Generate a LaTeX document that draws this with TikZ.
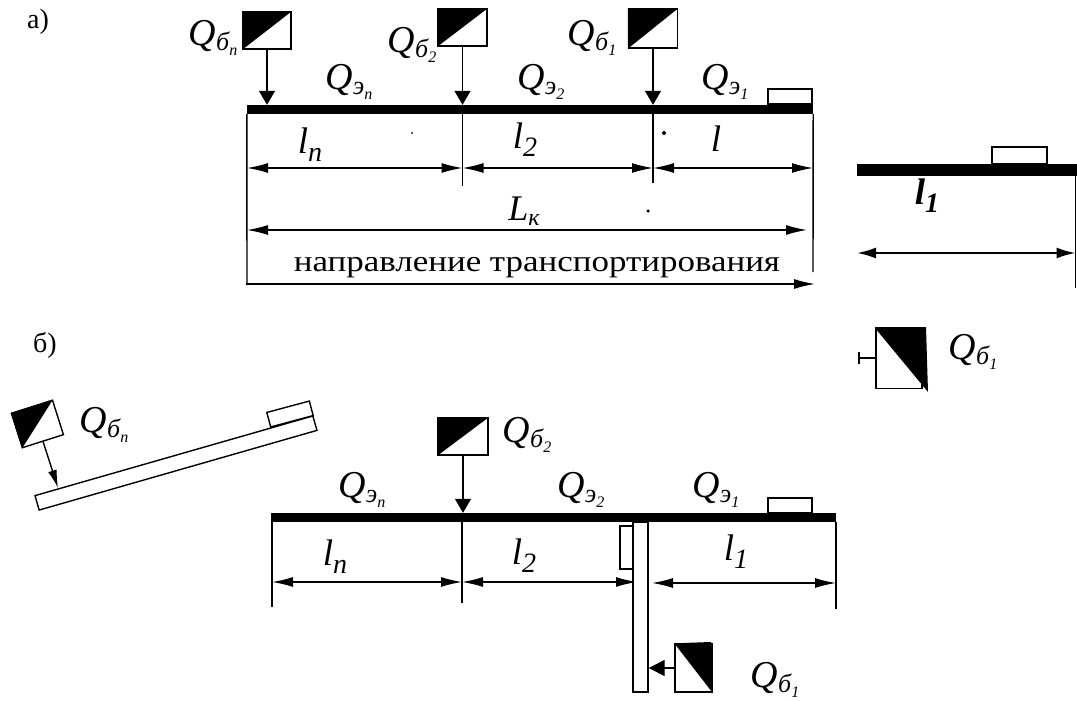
\documentclass[tikz,border=0pt]{standalone}
\usepackage{fontspec}
\setmainfont{Liberation Serif}
\usetikzlibrary{positioning}
\usetikzlibrary{arrows.meta}

\newcommand{\qLab}[2]{{\fontsize{38}{38}\selectfont\itshape Q}\raisebox{-5pt}{\fontsize{26}{26}\selectfont\itshape #1}\raisebox{-10pt}{\fontsize{16}{16}\selectfont\itshape #2}}
\newcommand{\lLab}[1]{{\fontsize{37}{37}\selectfont\itshape l}\raisebox{-8pt}{\fontsize{28}{28}\selectfont\itshape #1}}

\tikzset{
	thinLine/.style={line width=1.4pt},
	beamBar/.style={rectangle, fill=black, inner sep=0pt},
	plainBox/.style={rectangle, draw, line width=1.4pt, fill=white, inner sep=0pt},
	dotMark/.style={circle, fill=black, inner sep=0pt},
	dimLine/.style={line width=1.4pt, {Latex[length=21pt,width=10pt]}-{Latex[length=21pt,width=10pt]}},
	loadLine/.style={line width=1.4pt, -{Triangle[length=14pt,width=16pt]}},
	capLabel/.style={inner sep=0pt, font=\fontsize{28}{28}\selectfont}
}

\begin{document}
\begin{tikzpicture}[x=1pt, y=-1pt]
	\useasboundingbox (0,0) rectangle (1077,701);

	% part a
	\node[capLabel](capA) at (38,22){a)};
	\node[beamBar, minimum width=566pt, minimum height=9pt](beamTop) at (530,109.5){};
	\node[plainBox, minimum width=44pt, minimum height=15pt](loadTop) at (790,96.5){};

	\node[plainBox, minimum width=48pt, minimum height=37pt](boxTopN) at (267,30.5){};
	\fill (boxTopN.north west) -- (boxTopN.north east) -- (boxTopN.south west) -- cycle;
	\node[plainBox, minimum width=49pt, minimum height=37pt](boxTopB) at (462.5,27.5){};
	\fill (boxTopB.north west) -- (boxTopB.north east) -- (boxTopB.south west) -- cycle;
	\node[plainBox, minimum width=49pt, minimum height=39pt](boxTopA) at (653,28.5){};
	\fill (boxTopA.north west) -- (boxTopA.north east) -- (boxTopA.south west) -- cycle;
	\draw[loadLine] (boxTopN.south) -- (boxTopN.south |- beamTop.north);
	\draw[loadLine] (boxTopB.south) -- (boxTopB.south |- beamTop.north);
	\draw[loadLine] (boxTopA.south) -- (boxTopA.south |- beamTop.north);

	\node(lblTopBn) at (213,38){\qLab{б}{n}};
	\node(lblTopB2) at (412,45){\qLab{б}{2}};
	\node(lblTopB1) at (592,38){\qLab{б}{1}};
	\node(lblTopEn) at (349,82){\qLab{э}{n}};
	\node(lblTopE2) at (541,82){\qLab{э}{2}};
	\node(lblTopE1) at (725,82){\qLab{э}{1}};
	\node(lblTopLn) at (310,145){\lLab{n}};
	\node(lblTopL2) at (525,140){\lLab{2}};
	\node(lblTopL) at (716,143){\lLab{}};
	\node(lblTopLk) at (524,211){{\fontsize{36}{36}\selectfont\itshape L}\raisebox{-5pt}{\fontsize{24}{24}\selectfont\itshape к}};

	\coordinate(extTopL) at (247,285);
	\coordinate(extTopA) at (462.5,186);
	\coordinate(extTopB) at (653,183);
	\coordinate(extTopR) at (813,272);
	\draw[thinLine] (beamTop.south west) -- (extTopL);
	\draw[thinLine] (extTopA |- beamTop.south) -- (extTopA);
	\draw[thinLine] (extTopB |- beamTop.south) -- (extTopB);
	\draw[thinLine] (beamTop.south east) -- (extTopR);

	\coordinate(dimTopL) at (247,168);
	\coordinate(dimTopA) at (462.5,168);
	\coordinate(dimTopB) at (653,168);
	\coordinate(dimTopR) at (813,168);
	\draw[dimLine] (dimTopL) -- (dimTopA);
	\draw[dimLine] (dimTopA) -- (dimTopB);
	\draw[dimLine] (dimTopB) -- (dimTopR);
	\coordinate(totalL) at (247,230);
	\coordinate(totalR) at (807,230);
	\draw[dimLine] (totalL) -- (totalR);

	\node(lblDirection) at (537,268){\scalebox{1.165}[1]{\fontsize{30}{30}\selectfont направление транспортирования}};
	\coordinate(dirL) at (246,284);
	\coordinate(dirR) at (815,284);
	\draw[thinLine, -{Latex[length=21pt,width=10pt]}] (dirL) -- (dirR);

	\node[dotMark, minimum size=2pt](dotA) at (412,133){};
	\node[dotMark, minimum size=4pt](dotB) at (664,133){};
	\node[dotMark, minimum size=3.5pt](dotC) at (648,211){};

	% detail on the right
	\node[beamBar, minimum width=220pt, minimum height=12pt](beamSide) at (967,170){};
	\node[plainBox, minimum width=55pt, minimum height=17pt](loadSide) at (1019.5,155.5){};
	\coordinate(extSide) at (1075.5,288);
	\draw[thinLine] (extSide |- beamSide.south) -- (extSide);
	\coordinate(dimSideL) at (857,253);
	\coordinate(dimSideR) at (1075.5,253);
	\draw[line width=2pt, {Latex[length=19pt,width=11pt]}-{Latex[length=19pt,width=11pt]}] (dimSideL) -- (dimSideR);
	\node(lblSideL) at (927,196){\bfseries\lLab{1}};

	\node[plainBox, minimum width=46pt, minimum height=61pt](boxSide) at (899,358){};
	\fill (875,328) -- (926,327) -- (928,392) -- cycle;
	\coordinate(stubEnd) at (858,358);
	\draw[line width=2pt, -{Bar[width=12pt]}] (boxSide.west) -- (stubEnd);
	\node(lblSideQ) at (973,352){\qLab{б}{1}};

	% part b
	\node[capLabel](capB) at (45,345){б)};
	\node[beamBar, minimum width=565pt, minimum height=9pt](beamLow) at (553.5,517.5){};
	\node[plainBox, minimum width=44pt, minimum height=15pt](loadLow) at (790,505.5){};

	\node[plainBox, minimum width=50pt, minimum height=37pt](boxLowB) at (463,436.5){};
	\fill (boxLowB.north west) -- (boxLowB.north east) -- (boxLowB.south west) -- cycle;
	\draw[loadLine] (boxLowB.south) -- (boxLowB.south |- beamLow.north);

	\coordinate(extLowL) at (272,607);
	\coordinate(extLowA) at (462,603);
	\coordinate(extLowR) at (836,609);
	\draw[thinLine] (extLowL |- beamLow.south) -- (extLowL);
	\draw[thinLine] (extLowA |- beamLow.south) -- (extLowA);
	\draw[thinLine] (extLowR |- beamLow.south) -- (extLowR);

	\coordinate(dimLowL) at (272,582);
	\coordinate(dimLowA) at (462,582);
	\coordinate(dimLowB) at (637,582);
	\coordinate(dimLowC) at (652,583);
	\coordinate(dimLowR) at (836,583);
	\draw[dimLine] (dimLowL) -- (dimLowA);
	\draw[dimLine] (dimLowA) -- (dimLowB);
	\draw[dimLine] (dimLowC) -- (dimLowR);

	\node[plainBox, minimum width=13pt, minimum height=43pt](loadPlank) at (626.5,547.5){};
	\node[plainBox, minimum width=15pt, minimum height=170pt](plankV) at (640.5,607){};

	\node[plainBox, minimum width=37pt, minimum height=48pt](boxLowA) at (693.5,668){};
	\fill (boxLowA.north west) -- (711,642) -- (712,692) -- cycle;
	\draw[line width=1.4pt, -{Triangle[length=16pt,width=16pt]}] (boxLowA.west) -- (boxLowA.west -| plankV.east);

	\node(lblLowBn) at (104,425){\qLab{б}{n}};
	\node(lblLowB2) at (527,435){\qLab{б}{2}};
	\node(lblLowB1) at (775,680){\qLab{б}{1}};
	\node(lblLowEn) at (362,490){\qLab{э}{n}};
	\node(lblLowE2) at (581,490){\qLab{э}{2}};
	\node(lblLowE1) at (716,490){\qLab{э}{1}};
	\node(lblLowLn) at (335,557){\lLab{n}};
	\node(lblLowL2) at (524,556){\lLab{2}};
	\node(lblLowL1) at (736,552){\lLab{1}};

	% tilted section
	\node[plainBox, rotate=16, minimum width=289pt, minimum height=15pt](plankT) at (176,463){};
	\node[plainBox, rotate=15, minimum width=44pt, minimum height=15pt](loadT) at (290,414){};
	\node[plainBox, rotate=17.6, minimum width=43pt, minimum height=36pt](boxT) at (37.5,424){};
	\fill (boxT.north west) -- (boxT.north east) -- (boxT.south west) -- cycle;
	\coordinate(hitT) at (58,488);
	\draw[line width=1.4pt, -{Latex[length=18pt,width=9pt]}] (boxT.south) -- (hitT);
\end{tikzpicture}
\end{document}
